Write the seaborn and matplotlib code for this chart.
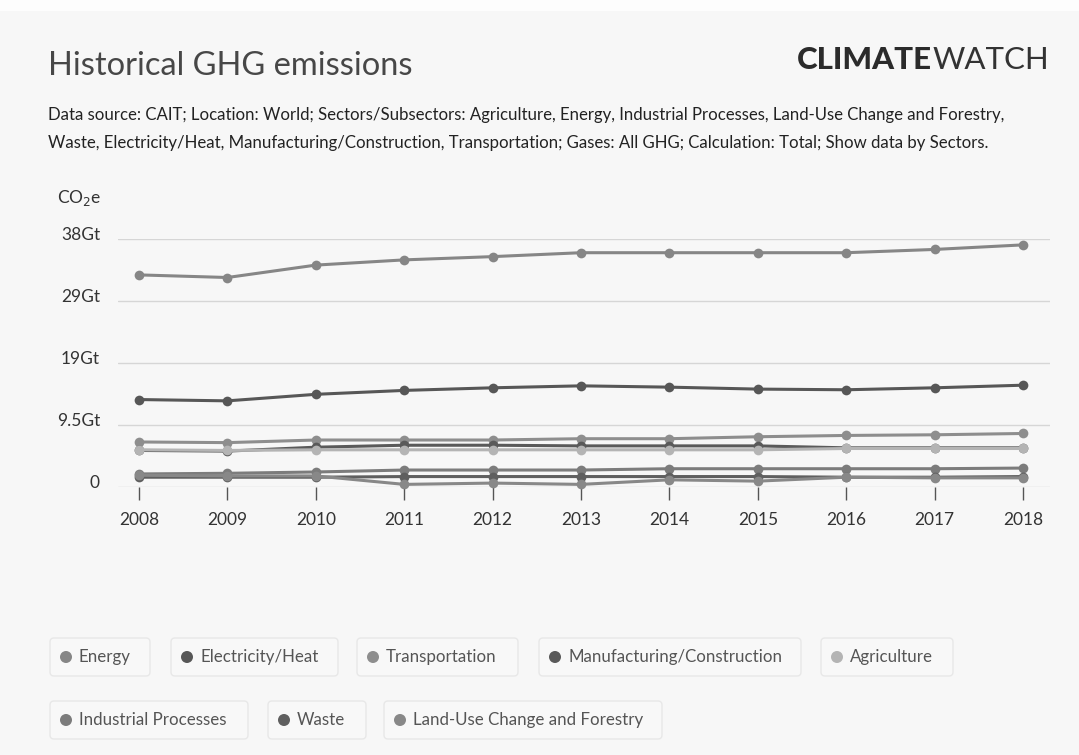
import matplotlib
matplotlib.use("Agg")
import matplotlib.pyplot as plt
from matplotlib.patches import FancyBboxPatch, Rectangle, Circle
from matplotlib.transforms import IdentityTransform, ScaledTranslation
import seaborn as sns
import pandas as pd

# data (Gt CO2e)
years = list(range(2008, 2019))
sectors = ["Energy", "Electricity/Heat", "Transportation", "Manufacturing/Construction",
           "Agriculture", "Industrial Processes", "Waste", "Land-Use Change and Forestry"]
energy = [32.5, 32.1, 34.0, 34.8, 35.3, 35.9, 35.9, 35.9, 35.9, 36.4, 37.1]
electricity = [13.4, 13.2, 14.2, 14.8, 15.2, 15.5, 15.3, 15.0, 14.9, 15.2, 15.6]
transport = [6.9, 6.8, 7.2, 7.2, 7.2, 7.4, 7.4, 7.7, 7.9, 8.0, 8.2]
manufacturing = [5.6, 5.5, 6.1, 6.4, 6.4, 6.3, 6.3, 6.3, 6.0, 6.0, 6.0]
agriculture = [5.7, 5.6, 5.7, 5.7, 5.7, 5.7, 5.7, 5.7, 5.9, 5.9, 5.9]
industrial = [2.0, 2.1, 2.3, 2.6, 2.6, 2.6, 2.8, 2.8, 2.8, 2.8, 2.9]
waste = [1.5, 1.5, 1.5, 1.6, 1.6, 1.6, 1.6, 1.6, 1.5, 1.5, 1.6]
lucf = [1.8, 1.7, 1.7, 0.4, 0.6, 0.4, 1.1, 0.9, 1.5, 1.4, 1.4]

colors = ["#868686", "#575757", "#8e8e8e", "#5a5a5a",
          "#b4b4b4", "#7c7c7c", "#5f5f5f", "#888888"]

ytick_vals = [0, 9.5, 19, 28.5, 38]
ytick_labels = ["0", "9.5Gt", "19Gt", "29Gt", "38Gt"]

series = [energy, electricity, transport, manufacturing, agriculture, industrial, waste, lucf]
df = pd.DataFrame([
    {"year": y, "sector": s, "value": v}
    for s, vals in zip(sectors, series) for y, v in zip(years, vals)
])
palette = dict(zip(sectors, colors))

sns.set_theme(style="white")
plt.rcParams["font.family"] = ["Lato", "DejaVu Sans"]

W, H = 1079, 755
fig = plt.figure(figsize=(W / 100, H / 100), dpi=100)
fig.patch.set_facecolor("#f7f7f7")

def px(x, y):
    return x / W, 1 - y / H

# faded strip at the very top
fig.add_artist(Rectangle((0, H - 11), W, 11, transform=IdentityTransform(),
                         facecolor="#fdfdfd", edgecolor="none"))

# axes placed by pixels: 118..1050 wide, 239..487 tall
ax = fig.add_axes([118 / W, 1 - 487 / H, (1050 - 118) / W, (487 - 239) / H])
ax.set_facecolor("#f7f7f7")

sns.lineplot(data=df, x="year", y="value", hue="sector", hue_order=sectors,
             palette=palette, marker="o", markersize=7, markeredgewidth=0,
             linewidth=2.2, ax=ax, legend=False, clip_on=False)

ax.set_xlim(2008 - 21 / 88.4, 2018 + 27 / 88.4)
ax.set_ylim(0, 38)
ax.set_yticks(ytick_vals)
ax.set_yticklabels(ytick_labels)
ax.set_xticks(years)
ax.set_xticklabels([str(y) for y in years])
ax.set_xlabel("")
ax.set_ylabel("")
for sp in ax.spines.values():
    sp.set_visible(False)
ax.yaxis.grid(True, color="#d6d6d6", linewidth=1)
ax.set_axisbelow(True)
ax.tick_params(axis="y", left=False, length=0, pad=13, labelsize=12.5, labelcolor="#333333")
ax.tick_params(axis="x", bottom=True, length=9, width=1, color="#555555", direction="out",
               pad=9, labelsize=12.5, labelcolor="#333333")
# y labels sit a little above their gridlines
lift = ScaledTranslation(0, 6 / 100, fig.dpi_scale_trans)
for lab in ax.get_yticklabels():
    lab.set_transform(lab.get_transform() + lift)

# header
fig.text(*px(48, 66), "Historical GHG emissions", fontsize=23.5, fontweight="normal",
         color="#474747", va="center", ha="left")
t = fig.text(*px(797, 60), "CLIMATE", fontsize=22.5, fontweight="black",
             color="#2b2b2b", va="center", ha="left")
fig.canvas.draw()
bb = t.get_window_extent()
fig.text(bb.x1 / W, 1 - 60 / H, "WATCH", fontsize=22.5, fontweight="normal",
         color="#333333", va="center", ha="left")

sub1 = ("Data source: CAIT; Location: World; Sectors/Subsectors: Agriculture, Energy, "
        "Industrial Processes, Land-Use Change and Forestry,")
sub2 = ("Waste, Electricity/Heat, Manufacturing/Construction, Transportation; "
        "Gases: All GHG; Calculation: Total; Show data by Sectors.")
fig.text(*px(48, 115), sub1, fontsize=12.1, color="#222222", va="center", ha="left")
fig.text(*px(48, 143), sub2, fontsize=12.1, color="#222222", va="center", ha="left")
fig.text(*px(57, 198), "CO$_2$e", fontsize=12.5, color="#333333", va="center", ha="left")

# legend chips
chips = [(50, 150, 657), (171, 338, 657), (357, 518, 657), (539, 801, 657), (821, 953, 657),
         (50, 248, 720), (268, 366, 720), (384, 662, 720)]
for (x0, x1, yc), name, col in zip(chips, sectors, colors):
    fig.add_artist(FancyBboxPatch((x0, H - yc - 19), x1 - x0, 38,
                                  boxstyle="round,pad=0,rounding_size=4",
                                  transform=IdentityTransform(), facecolor="#f8f8f8",
                                  edgecolor="#e8e8e8", linewidth=1))
    fig.add_artist(Circle((x0 + 16, H - yc), 6, transform=IdentityTransform(),
                          facecolor=col, edgecolor="none"))
    fig.text((x0 + 29) / W, 1 - yc / H, name, fontsize=12.2, color="#555555",
             va="center", ha="left")

fig.savefig("out.png", dpi=100, facecolor=fig.get_facecolor())
